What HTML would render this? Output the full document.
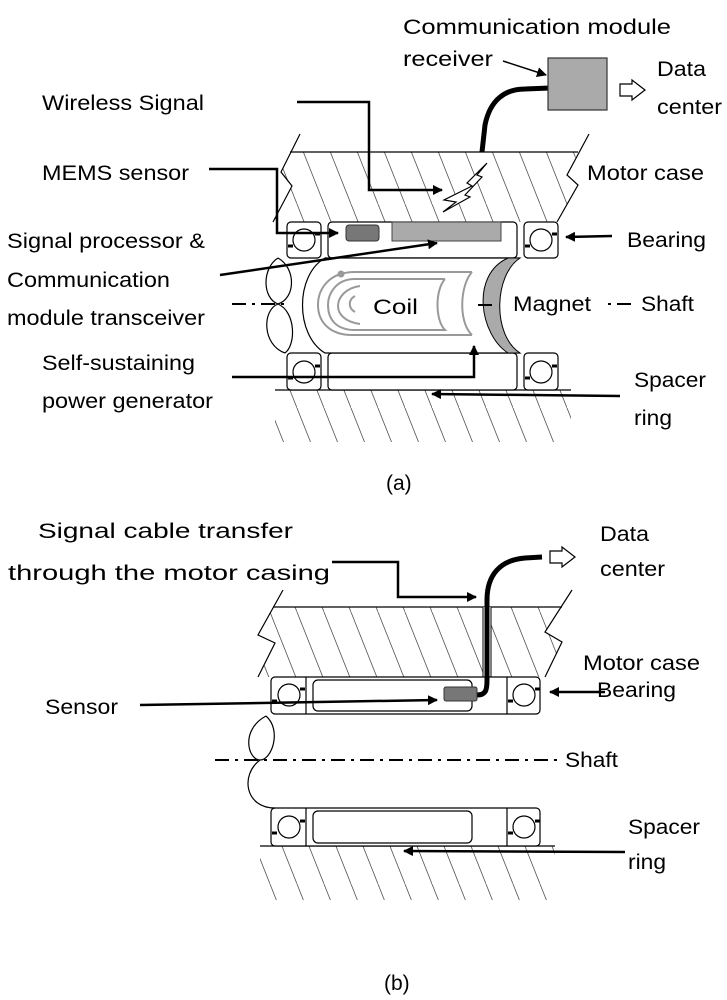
<!DOCTYPE html>
<html><head><meta charset="utf-8"><style>html,body{margin:0;padding:0;background:#fff}svg{display:block}</style></head>
<body>
<svg width="727" height="1000" viewBox="0 0 727 1000" xmlns="http://www.w3.org/2000/svg" font-family="Liberation Sans, Arial, sans-serif" font-size="21">
<defs>
<pattern id="h" patternUnits="userSpaceOnUse" width="27" height="68"><line x1="0" y1="0" x2="27" y2="68" stroke="#555" stroke-width="0.8"/><line x1="-27" y1="-68" x2="0" y2="0" stroke="#555" stroke-width="0.8"/><line x1="27" y1="0" x2="54" y2="68" stroke="#555" stroke-width="0.8"/></pattern>
<marker id="a" markerWidth="10" markerHeight="10" refX="9" refY="5" orient="auto" markerUnits="userSpaceOnUse"><path d="M0,0 L10,5 L0,10 Z" fill="#000"/></marker>
</defs>

<!-- ===== (a) ===== -->
<!-- case -->
<path d="M300,134 L281,172 L292,186 L273,222 L557,222 L578,185 L567,175 L589,134 L578,152 L290,152 Z" fill="none"/>
<polygon points="290,152 578,152 567,175 578,185 557,222 273,222 292,186 281,172" fill="url(#h)"/>
<line x1="290" y1="152" x2="578" y2="152" stroke="#000" stroke-width="1.2"/>
<polyline points="300,134 281,172 292,186 273,222" fill="none" stroke="#000" stroke-width="1.2"/>
<polyline points="589,134 567,175 578,185 557,222" fill="none" stroke="#000" stroke-width="1.2"/>
<!-- lower hatch -->
<rect x="275" y="390" width="296" height="52" fill="url(#h)"/>
<line x1="275" y1="390" x2="571" y2="390" stroke="#000" stroke-width="1.3"/>

<!-- top bearing row -->
<g fill="#fff" stroke="#000" stroke-width="1.2">
<rect x="287" y="222" width="34" height="36" rx="4"/>
<rect x="328" y="222" width="189" height="36" rx="4"/>
<rect x="524" y="222" width="34" height="36" rx="4"/>
<circle cx="304" cy="240" r="11"/><circle cx="541" cy="240" r="11"/>
<rect x="287" y="353" width="34" height="37" rx="4"/>
<rect x="328" y="353" width="189" height="37" rx="4"/>
<rect x="524" y="353" width="34" height="37" rx="4"/>
<circle cx="304" cy="372" r="11"/><circle cx="541" cy="372" r="11"/>
</g>
<g stroke="#000" stroke-width="3">
<line x1="288" y1="246" x2="293" y2="246"/><line x1="315" y1="234" x2="320" y2="234"/>
<line x1="525" y1="246" x2="530" y2="246"/><line x1="552" y1="234" x2="557" y2="234"/>
<line x1="288" y1="378" x2="293" y2="378"/><line x1="315" y1="366" x2="320" y2="366"/>
<line x1="525" y1="378" x2="530" y2="378"/><line x1="552" y1="366" x2="557" y2="366"/>
</g>
<rect x="392" y="222" width="109" height="19" fill="#aaa" stroke="#444"/>
<rect x="346" y="225" width="33" height="16" rx="3" fill="#777" stroke="#333"/>

<!-- shaft wavy left -->
<path d="M278,258 C262,268 262,298 278,304 C262,310 262,345 285,353" fill="none" stroke="#000" stroke-width="1.2"/>
<path d="M278,258 C296,268 296,298 278,304 C296,312 296,345 285,353" fill="none" stroke="#000" stroke-width="1.2"/>
<!-- rotor -->
<path d="M325,258 C295,275 295,335 325,353 L520,353 C480,335 478,275 520,258 Z" fill="#fff" stroke="#000" stroke-width="1.2"/>
<path d="M508,258 L520,258 C494,275 492,335 520,353 L508,353 C480,335 470,275 508,258 Z" fill="#aaa" stroke="#000" stroke-width="1"/>
<line x1="478" y1="305" x2="492" y2="305" stroke="#000" stroke-width="2"/>
<!-- coil -->
<g fill="none" stroke="#999" stroke-width="2">
<path d="M472,272 L355,272 C328,272 318,290 318,305 C318,322 330,335 352,335 L472,335"/>
<path d="M472,272 C460,285 458,322 472,335"/>
<path d="M445,279 L355,279 C335,279 328,295 328,305 C328,318 335,330 355,330 L445,330 C435,320 435,290 445,279"/>
<path d="M360,286 C345,288 338,298 338,306 C338,314 345,322 360,324"/>
<path d="M355,296 C348,300 348,308 355,312"/>
</g>
<circle cx="341" cy="274" r="3.5" fill="#999"/>
<text x="373" y="314" textLength="45" lengthAdjust="spacingAndGlyphs">Coil</text>

<!-- shaft line -->
<line x1="232" y1="304" x2="290" y2="304" stroke="#000" stroke-width="2" stroke-dasharray="14,6,3,6"/>
<line x1="608" y1="304" x2="634" y2="304" stroke="#000" stroke-width="2" stroke-dasharray="3,6,14,6"/>

<!-- arrows (a) -->
<g fill="none" stroke="#000" stroke-width="2.5">
<polyline points="297,102 369,102 369,190 442,190" marker-end="url(#a)"/>
<polyline points="209,169 277,169 277,233 338,233" marker-end="url(#a)"/>
<line x1="220" y1="275" x2="437" y2="243" marker-end="url(#a)"/>
<polyline points="232,377 474,377 474,346" marker-end="url(#a)"/>
<line x1="620" y1="396" x2="432" y2="394" marker-end="url(#a)"/>
<line x1="612" y1="236" x2="566" y2="237" marker-end="url(#a)"/>
<line x1="503" y1="61" x2="546" y2="75" stroke-width="1.5" marker-end="url(#a)"/>
</g>
<!-- lightning -->
<polygon points="487,163 467,183 472,186 444,200 456,202 443,212 470,197 465,195 482,177 477,175" fill="#fff" stroke="#000" stroke-width="1.2"/>
<!-- cable & receiver -->
<path d="M482,152 L485,125 C490,100 505,89 525,89 L550,88" fill="none" stroke="#000" stroke-width="5"/>
<rect x="548" y="58" width="59" height="52" fill="#aaa" stroke="#333" stroke-width="1.2"/>
<polygon points="620,84 632,84 632,80 645,90 632,100 632,96 620,96" fill="#fff" stroke="#000" stroke-width="1.2"/>

<!-- labels (a) -->
<text x="403" y="34" textLength="268" lengthAdjust="spacingAndGlyphs">Communication module</text>
<text x="403" y="66" textLength="90" lengthAdjust="spacingAndGlyphs">receiver</text>
<text x="657" y="76" textLength="49" lengthAdjust="spacingAndGlyphs">Data</text>
<text x="657" y="114" textLength="65" lengthAdjust="spacingAndGlyphs">center</text>
<text x="42" y="110" textLength="162" lengthAdjust="spacingAndGlyphs">Wireless Signal</text>
<text x="42" y="180" textLength="147" lengthAdjust="spacingAndGlyphs">MEMS sensor</text>
<text x="587" y="180" textLength="117" lengthAdjust="spacingAndGlyphs">Motor case</text>
<text x="7" y="248" textLength="198" lengthAdjust="spacingAndGlyphs">Signal processor &amp;</text>
<text x="627" y="247" textLength="79" lengthAdjust="spacingAndGlyphs">Bearing</text>
<text x="7" y="287" textLength="163" lengthAdjust="spacingAndGlyphs">Communication</text>
<text x="7" y="325" textLength="198" lengthAdjust="spacingAndGlyphs">module transceiver</text>
<text x="513" y="311" textLength="78" lengthAdjust="spacingAndGlyphs">Magnet</text>
<text x="641" y="311" textLength="53" lengthAdjust="spacingAndGlyphs">Shaft</text>
<text x="42" y="370" textLength="153" lengthAdjust="spacingAndGlyphs">Self-sustaining</text>
<text x="42" y="408" textLength="171" lengthAdjust="spacingAndGlyphs">power generator</text>
<text x="634" y="387" textLength="72" lengthAdjust="spacingAndGlyphs">Spacer</text>
<text x="634" y="425" textLength="38" lengthAdjust="spacingAndGlyphs">ring</text>
<text x="386" y="490">(a)</text>

<!-- ===== (b) ===== -->
<polygon points="273,607 562,607 572,590 545,632 562,642 545,677 258,677 275,643 258,635 283,590" fill="none"/>
<polygon points="273,607 562,607 545,632 562,642 545,677 258,677 275,643 258,635" fill="url(#h)"/>
<line x1="273" y1="607" x2="562" y2="607" stroke="#000" stroke-width="1.2"/>
<polyline points="283,590 258,635 275,643 258,677" fill="none" stroke="#000" stroke-width="1.2"/>
<polyline points="572,590 545,632 562,642 545,677" fill="none" stroke="#000" stroke-width="1.2"/>
<rect x="260" y="846" width="295" height="54" fill="url(#h)"/>
<line x1="260" y1="846" x2="555" y2="846" stroke="#000" stroke-width="1.3"/>
<!-- cable slot -->
<rect x="483" y="607" width="8" height="70" fill="#fff"/>
<line x1="483" y1="607" x2="483" y2="677" stroke="#000"/>
<line x1="491" y1="607" x2="491" y2="677" stroke="#000"/>

<g fill="#fff" stroke="#000" stroke-width="1.2">
<rect x="271" y="677" width="269" height="37" rx="4"/>
<line x1="306" y1="677" x2="306" y2="714"/><line x1="507" y1="677" x2="507" y2="714"/>
<rect x="313" y="680" width="159" height="31" rx="5"/>
<circle cx="289" cy="695" r="11"/><circle cx="524" cy="695" r="11"/>
<rect x="271" y="808" width="269" height="38" rx="4"/>
<line x1="306" y1="808" x2="306" y2="846"/><line x1="507" y1="808" x2="507" y2="846"/>
<rect x="313" y="811" width="159" height="32" rx="5"/>
<circle cx="289" cy="827" r="11"/><circle cx="524" cy="827" r="11"/>
</g>
<g stroke="#000" stroke-width="3">
<line x1="272" y1="701" x2="277" y2="701"/><line x1="300" y1="689" x2="305" y2="689"/>
<line x1="508" y1="701" x2="513" y2="701"/><line x1="535" y1="689" x2="540" y2="689"/>
<line x1="272" y1="833" x2="277" y2="833"/><line x1="300" y1="821" x2="305" y2="821"/>
<line x1="508" y1="833" x2="513" y2="833"/><line x1="535" y1="821" x2="540" y2="821"/>
</g>
<!-- wavy shaft -->
<path d="M266,716 C240,730 248,760 260,760 C272,760 282,730 266,716 M260,760 C240,775 245,808 275,808" fill="none" stroke="#000" stroke-width="1.2"/>
<line x1="215" y1="760" x2="560" y2="760" stroke="#000" stroke-width="2" stroke-dasharray="14,6,3,6"/>
<!-- cable -->
<path d="M477,695 C486,695 487,690 487,680 L487,600 C487,575 500,560 525,558 L542,557" fill="none" stroke="#000" stroke-width="5"/>
<rect x="444" y="687" width="33" height="14" rx="2" fill="#777" stroke="#333"/>
<polygon points="550,551 562,551 562,547 575,557 562,567 562,563 550,563" fill="#fff" stroke="#000" stroke-width="1.2"/>

<g fill="none" stroke="#000" stroke-width="2.5">
<polyline points="332,562 398,562 398,597 476,597" marker-end="url(#a)"/>
<line x1="140" y1="705" x2="437" y2="700" marker-end="url(#a)"/>
<line x1="605" y1="692" x2="550" y2="692" marker-end="url(#a)"/>
<line x1="625" y1="852" x2="404" y2="851" marker-end="url(#a)"/>
</g>

<text x="38" y="538" textLength="255" lengthAdjust="spacingAndGlyphs">Signal cable transfer</text>
<text x="8" y="580" textLength="322" lengthAdjust="spacingAndGlyphs">through the motor casing</text>
<text x="600" y="541" textLength="49" lengthAdjust="spacingAndGlyphs">Data</text>
<text x="600" y="576" textLength="65" lengthAdjust="spacingAndGlyphs">center</text>
<text x="583" y="670" textLength="117" lengthAdjust="spacingAndGlyphs">Motor case</text>
<text x="597" y="697" textLength="79" lengthAdjust="spacingAndGlyphs">Bearing</text>
<text x="45" y="714" textLength="73" lengthAdjust="spacingAndGlyphs">Sensor</text>
<text x="565" y="767" textLength="53" lengthAdjust="spacingAndGlyphs">Shaft</text>
<text x="628" y="834" textLength="72" lengthAdjust="spacingAndGlyphs">Spacer</text>
<text x="628" y="869" textLength="38" lengthAdjust="spacingAndGlyphs">ring</text>
<text x="384" y="990">(b)</text>
</svg>
</body></html>
